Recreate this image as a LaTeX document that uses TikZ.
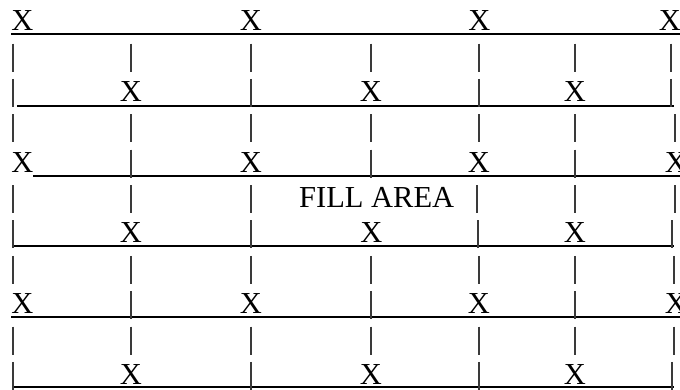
\documentclass[tikz,border=0pt]{standalone}
\usepackage{fontspec}
\setmainfont{Liberation Serif}
\usepackage{xcolor}
\usepackage{tikz}
\definecolor{Ink}{HTML}{000000}
\definecolor{BarGray}{HTML}{3A3A3A}

\begin{document}
\begin{tikzpicture}[x=1pt, y=-1pt]
  \tikzstyle{xsym} = [inner sep=0pt, anchor=base, text=Ink, font=\fontsize{30.5}{36}\selectfont]
  \tikzstyle{vbar} = [draw=BarGray, line width=1.1pt]
  \tikzstyle{hrule} = [draw=Ink, line width=2pt]

  \useasboundingbox (0,0) rectangle (680,389);
  \clip (0,0) rectangle (680,389);

  % underlines
  \draw[hrule] (11,34) -- (680,34);
  \draw[hrule] (17,106) -- (674,106);
  \draw[hrule] (33,175.7) -- (680,175.7);
  \draw[hrule] (12,246) -- (674,246);
  \draw[hrule] (11,316.7) -- (680,316.7);
  \draw[hrule] (12,387) -- (674,387);

  % bars, row by row (baseline / positions)
  \foreach \b/\xs in {66.1/{13,131,251,371,479,575,671},
                      101.4/{13,251,479,671},
                      136.8/{13,131,251,371,479,575,675},
                      172.2/{131,371,575},
                      207.6/{13,131,251,477,575,675},
                      242.9/{13,251,478,672},
                      278.3/{13,131,251,371,479,575,674},
                      313.7/{131,371,575},
                      349.0/{13,131,251,371,479,575,674},
                      384.4/{13,251,479,672}}
    \foreach \bx in \xs
      \draw[vbar] (\bx,\b-22.5) -- (\bx,\b+5.5);

  % X marks on the rail lines
  \foreach \cx [count=\i] in {22.5,251,479.5,670}
    \node[xsym] (xa\i) at (\cx,30.7) {X};
  \foreach \cx [count=\i] in {22.5,251,479,676}
    \node[xsym] (xc\i) at (\cx,172.2) {X};
  \foreach \cx [count=\i] in {22.5,251,479,676}
    \node[xsym] (xe\i) at (\cx,313.7) {X};

  % X marks on the offset lines
  \foreach \cx [count=\i] in {131,371,575}
    \node[xsym] (xb\i) at (\cx,101.4) {X};
  \foreach \cx [count=\i] in {131,371.5,575}
    \node[xsym] (xd\i) at (\cx,242.9) {X};
  \foreach \cx [count=\i] in {131,371,575}
    \node[xsym] (xf\i) at (\cx,384.4) {X};

  \node[xsym, anchor=base west] (fillarea) at (299,207.6) {FILL AREA};
\end{tikzpicture}
\end{document}
